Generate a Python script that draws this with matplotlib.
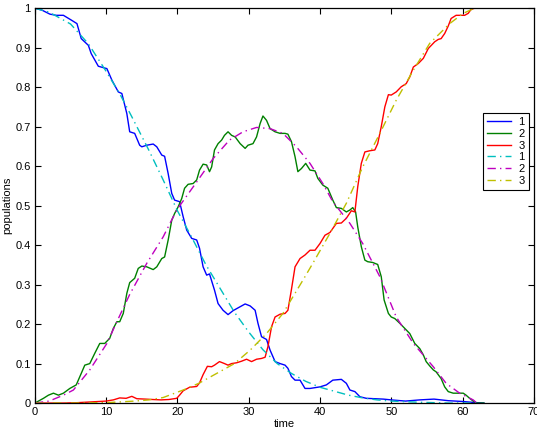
import matplotlib
matplotlib.use("Agg")
import matplotlib.pyplot as plt

# solid curves (wiggly)
t1 = [0, 1.0, 2.1, 3.0, 4.0, 5.1, 5.9, 6.5, 7.5, 7.9,
      8.9, 10.1, 10.8, 11.7, 12.2, 12.9, 13.3, 14.0, 14.7, 15.0,
      15.7, 16.6, 17.1, 17.8, 18.2, 18.7, 19.2, 19.6, 20.3, 20.8,
      21.3, 22.0, 22.7, 23.1, 23.6, 24.1, 24.5, 25.2, 25.7, 26.4,
      27.1, 27.8, 28.8, 29.5, 30.2, 30.9, 31.3, 31.8, 32.5, 33.0,
      33.7, 34.4, 35.1, 35.5, 36.0, 36.5, 37.2, 37.9, 38.6, 39.3,
      40.0, 40.9, 41.8, 43.0, 43.7, 44.2, 44.9, 45.6, 46.5, 48.9,
      50, 52, 54, 56, 58, 60, 62, 63]
p1 = [1.0, 0.995, 0.985, 0.982, 0.982, 0.970, 0.961, 0.923, 0.906, 0.885,
      0.853, 0.847, 0.818, 0.788, 0.784, 0.733, 0.687, 0.683, 0.653, 0.649,
      0.653, 0.656, 0.649, 0.628, 0.625, 0.581, 0.531, 0.514, 0.510, 0.472,
      0.438, 0.417, 0.413, 0.392, 0.345, 0.324, 0.327, 0.286, 0.252, 0.235,
      0.224, 0.234, 0.244, 0.251, 0.246, 0.235, 0.202, 0.168, 0.161, 0.134,
      0.105, 0.100, 0.096, 0.088, 0.067, 0.058, 0.058, 0.037, 0.037, 0.039,
      0.041, 0.046, 0.058, 0.060, 0.050, 0.033, 0.029, 0.016, 0.012, 0.010,
      0.008, 0.005, 0.008, 0.010, 0.006, 0.004, 0.001, 0.0]

t2 = [0, 1.2, 1.9, 2.6, 3.3, 4.0, 4.9, 5.8, 6.5, 7.0,
      7.7, 8.4, 9.1, 9.8, 10.5, 11.0, 11.5, 11.9, 12.4, 12.9,
      13.3, 14.0, 14.5, 15.0, 15.7, 16.6, 17.1, 17.8, 18.2, 18.7,
      19.2, 19.6, 20.1, 20.6, 21.0, 21.5, 22.2, 22.7, 23.1, 23.6,
      24.1, 24.5, 24.8, 25.2, 25.7, 26.2, 26.6, 27.1, 27.6, 28.1,
      28.8, 29.5, 29.9, 30.6, 31.1, 31.6, 32.0, 32.5, 33.0, 33.7,
      34.4, 35.1, 35.5, 36.0, 36.5, 36.9, 37.4, 38.0, 38.6, 39.3,
      39.7, 40.4, 41.1, 41.8, 42.3, 43.0, 43.7, 44.2, 44.6, 45.0,
      45.3, 45.8, 46.3, 46.7, 47.4, 48.1, 48.6, 49.0, 49.6, 50.0,
      50.5, 51.2, 51.9, 52.6, 53.3, 54.0, 54.5, 54.9, 55.4, 55.9,
      56.3, 57.0, 57.5, 58.0, 58.7, 59.4, 60.1, 60.5, 61.0, 61.5,
      62, 63]
p2 = [0.0, 0.012, 0.020, 0.025, 0.020, 0.025, 0.037, 0.046, 0.075, 0.096,
      0.100, 0.126, 0.151, 0.151, 0.164, 0.189, 0.206, 0.206, 0.227, 0.278,
      0.305, 0.316, 0.341, 0.347, 0.345, 0.338, 0.345, 0.366, 0.370, 0.413,
      0.463, 0.480, 0.497, 0.518, 0.544, 0.554, 0.556, 0.565, 0.590, 0.605,
      0.603, 0.586, 0.598, 0.641, 0.657, 0.666, 0.678, 0.687, 0.678, 0.674,
      0.657, 0.645, 0.653, 0.657, 0.674, 0.708, 0.727, 0.716, 0.695, 0.687,
      0.683, 0.683, 0.681, 0.662, 0.624, 0.586, 0.594, 0.607, 0.590, 0.588,
      0.569, 0.552, 0.544, 0.514, 0.495, 0.493, 0.484, 0.489, 0.495, 0.484,
      0.446, 0.396, 0.362, 0.358, 0.356, 0.351, 0.320, 0.261, 0.227, 0.218,
      0.214, 0.202, 0.189, 0.176, 0.151, 0.138, 0.122, 0.105, 0.094, 0.084,
      0.079, 0.062, 0.041, 0.029, 0.025, 0.025, 0.025, 0.020, 0.012, 0.005,
      0.0, 0.0]

t3 = [0, 2, 4, 6, 8, 9, 10, 11, 11.9, 12.8,
      13.6, 14.3, 15.5, 16.5, 17.7, 18.8, 19.9, 20.3, 20.8, 21.7,
      22.7, 23.1, 23.6, 24.2, 24.8, 25.2, 25.9, 26.6, 27.1, 27.6,
      28.3, 29.0, 29.7, 30.4, 31.1, 31.8, 32.3, 32.7, 33.2, 33.7,
      34.4, 35.1, 35.5, 36.0, 36.5, 37.2, 37.9, 38.6, 39.3, 40.0,
      40.7, 41.4, 42.3, 43.0, 43.7, 44.4, 44.9, 45.3, 45.8, 46.3,
      47.0, 47.7, 48.1, 48.6, 49.1, 49.6, 50.0, 50.7, 51.4, 52.1,
      52.6, 53.1, 53.8, 54.5, 55.2, 56.1, 56.6, 57.0, 57.5, 58.0,
      58.4, 59.1, 59.8, 60.3, 60.8, 61.2, 61.7, 62.9]
p3 = [0, 0, 0, 0.001, 0.003, 0.004, 0.005, 0.008, 0.013, 0.012,
      0.017, 0.011, 0.010, 0.009, 0.008, 0.009, 0.012, 0.020, 0.031, 0.040,
      0.042, 0.051, 0.072, 0.093, 0.092, 0.096, 0.105, 0.100, 0.096, 0.100,
      0.102, 0.106, 0.111, 0.105, 0.111, 0.113, 0.116, 0.143, 0.193, 0.218,
      0.225, 0.227, 0.235, 0.288, 0.345, 0.366, 0.375, 0.387, 0.387, 0.404,
      0.425, 0.432, 0.455, 0.456, 0.468, 0.487, 0.484, 0.548, 0.607, 0.636,
      0.639, 0.641, 0.657, 0.700, 0.750, 0.781, 0.780, 0.788, 0.801, 0.809,
      0.826, 0.851, 0.860, 0.873, 0.898, 0.915, 0.921, 0.923, 0.936, 0.955,
      0.974, 0.982, 0.982, 0.982, 0.987, 0.997, 1.0, 1.0]

# dash-dot curves (smooth)
td1 = [0, 2, 5, 7.5, 10, 12, 13.6, 16, 18, 20, 22, 24, 26, 28,
       30, 32, 34, 36, 38, 40, 42, 44, 46, 48, 50, 54, 58, 62]
pd1 = [1.0, 0.99, 0.96, 0.91, 0.84, 0.78, 0.725, 0.64, 0.565, 0.487, 0.42, 0.35, 0.29, 0.23,
       0.18, 0.135, 0.10, 0.075, 0.055, 0.04, 0.03, 0.02, 0.013, 0.008, 0.005, 0.002, 0.0, 0.0]

td2 = [0, 2, 4, 5.4, 7.7, 10.1, 11.5, 13.3, 15.7, 18.0,
       19.9, 22.7, 25.0, 27.3, 29.2, 31.1, 33.0, 34.8, 36.7, 38.6,
       40.4, 41.8, 44.2, 46.0, 48.4, 50.7, 53.1, 55.9, 57.7, 59.6,
       61.5, 62]
pd2 = [0, 0.005, 0.02, 0.033, 0.084, 0.151, 0.206, 0.275, 0.354, 0.421,
       0.489, 0.560, 0.619, 0.666, 0.687, 0.698, 0.695, 0.683, 0.649, 0.607,
       0.556, 0.510, 0.455, 0.404, 0.320, 0.218, 0.151, 0.092, 0.050, 0.025,
       0.008, 0.0]

td3 = [0, 5, 10, 14, 16, 18, 20.8, 23, 25.5, 28,
       30.2, 32.5, 34.8, 37.6, 39.0, 41.4, 43.7, 46.0, 48.4, 50.7,
       53.1, 55.4, 56.3, 58.2, 60.1, 61.7, 62]
pd3 = [0, 0, 0.001, 0.005, 0.008, 0.014, 0.033, 0.05, 0.075, 0.10,
       0.134, 0.176, 0.227, 0.311, 0.354, 0.430, 0.506, 0.598, 0.683, 0.767,
       0.843, 0.911, 0.927, 0.961, 0.987, 1.0, 1.0]

labels = ['1', '2', '3']

plt.rcParams['font.family'] = ['Liberation Sans', 'DejaVu Sans']
plt.rcParams['font.size'] = 8

fig = plt.figure(figsize=(5.37, 4.32), dpi=100)
ax = fig.add_axes([0.065, 0.067, 0.929, 0.914])

dashdot = (0, (6, 3, 1, 3))
ax.plot(t1, p1, color=(0, 0, 1), lw=1.0, label=labels[0], solid_joinstyle='round')
ax.plot(t2, p2, color=(0, 0.5, 0), lw=1.0, label=labels[1], solid_joinstyle='round')
ax.plot(t3, p3, color=(1, 0, 0), lw=1.0, label=labels[2], solid_joinstyle='round')
ax.plot(td1, pd1, color=(0, 0.75, 0.75), lw=1.0, ls=dashdot, label=labels[0])
ax.plot(td2, pd2, color=(0.75, 0, 0.75), lw=1.0, ls=dashdot, label=labels[1])
ax.plot(td3, pd3, color=(0.75, 0.75, 0), lw=1.0, ls=dashdot, label=labels[2])

ax.set_xlim(0, 70)
ax.set_ylim(0, 1)
ax.set_xticks(range(0, 71, 10))
ax.set_yticks([i / 10 for i in range(11)])
ax.set_yticklabels(['0', '0.1', '0.2', '0.3', '0.4', '0.5', '0.6', '0.7', '0.8', '0.9', '1'])
ax.tick_params(direction='in', top=True, right=True, length=4, width=0.8, labelsize=8, pad=3)
for s in ax.spines.values():
    s.set_linewidth(0.9)
ax.set_xlabel('time', fontsize=8, labelpad=1)
ax.set_ylabel('populations', fontsize=8, labelpad=2)

leg = ax.legend(loc='upper right', bbox_to_anchor=(0.99, 0.735), borderaxespad=0,
                fontsize=8, fancybox=False, edgecolor='black', framealpha=1,
                handlelength=2.2, borderpad=0.4, labelspacing=0.15, handletextpad=0.6)
leg.get_frame().set_linewidth(0.8)

fig.savefig('out.png', dpi=100)
